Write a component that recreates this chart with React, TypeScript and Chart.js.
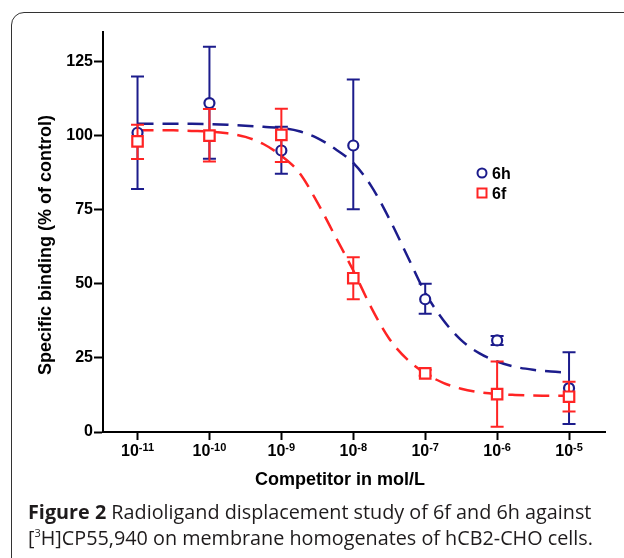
import React, { useEffect, useRef } from "react";
import { Chart, registerables } from "chart.js";

Chart.register(...registerables);

// ---- data (x = log10 of competitor concentration in mol/L) ----
const logConc = [-11, -10, -9, -8, -7, -6, -5];
const xTicks = [-11, -10, -9, -8, -7, -6, -5];
const yTicks = [0, 25, 50, 75, 100, 125];

const h6Mean = [101, 111, 95, 96.7, 44.8, 30.9, 14.8];
const h6Upper = [120, 130, 103, 119, 50, 32.4, 26.9];
const h6Lower = [82, 92.2, 87.2, 75.2, 39.9, 29.4, 2.7];

const f6Mean = [98.1, 100, 100.3, 51.9, 19.8, 12.8, 11.9];
const f6Upper = [103.7, 109, 109.1, 59, 21, 23.8, 17];
const f6Lower = [92.1, 91.3, 91.1, 44.8, 19, 1.8, 6.9];

// fitted curves
const curveX = [
  -11, -10.75, -10.5, -10.25, -10, -9.75, -9.5, -9.25, -9, -8.75, -8.5, -8.25, -8,
  -7.75, -7.5, -7.25, -7, -6.75, -6.5, -6.25, -6, -5.75, -5.5, -5.25, -5,
];
const h6Curve = [
  104, 104, 104, 104, 103.9, 103.7, 103.4, 103.0, 102.6, 101.5, 99.2, 95.5, 90.8,
  83.0, 72.0, 59.5, 47.0, 37.8, 31.0, 26.6, 23.8, 22.0, 21.0, 20.4, 20.0,
];
const f6Curve = [
  101.8, 101.8, 101.8, 101.6, 101.4, 100.8, 99.6, 97.2, 93.2, 87.5, 77.5, 66.0, 54.5,
  42.0, 31.5, 24.5, 19.8, 16.6, 14.6, 13.4, 12.8, 12.5, 12.3, 12.2, 12.2,
];

const seriesNames = ["6h", "6f"];
const BLUE = "#1c1c8c";
const RED = "#ff2424";
const AXIS_FONT = "'Liberation Sans', Arial, sans-serif";

export default function App() {
  const ref = useRef<HTMLCanvasElement | null>(null);

  useEffect(() => {
    const canvas = ref.current;
    if (!canvas) return;

    const errorBars = [
      { upper: h6Upper, lower: h6Lower, color: BLUE },
      { upper: f6Upper, lower: f6Lower, color: RED },
    ];

    const plugin = {
      id: "decor",
      beforeDatasetDraw(chart: any, args: any) {
        const idx = args.index;
        if (idx !== 2 && idx !== 3) return;
        const eb = errorBars[idx - 2];
        const xs = chart.scales.x;
        const ys = chart.scales.y;
        const ctx = chart.ctx;
        ctx.save();
        ctx.strokeStyle = eb.color;
        ctx.lineWidth = 2;
        logConc.forEach((lx, i) => {
          const px = xs.getPixelForValue(lx);
          const pt = ys.getPixelForValue(eb.upper[i]);
          const pb = ys.getPixelForValue(eb.lower[i]);
          ctx.beginPath();
          ctx.moveTo(px, pt);
          ctx.lineTo(px, pb);
          ctx.moveTo(px - 6.5, pt);
          ctx.lineTo(px + 6.5, pt);
          ctx.moveTo(px - 6.5, pb);
          ctx.lineTo(px + 6.5, pb);
          ctx.stroke();
        });
        ctx.restore();
      },
      afterDraw(chart: any) {
        const ctx = chart.ctx;
        const xs = chart.scales.x;
        const area = chart.chartArea;
        ctx.save();
        ctx.fillStyle = "#000";
        // x tick labels 10^n
        xTicks.forEach((v) => {
          const px = xs.getPixelForValue(v);
          ctx.font = `bold 16px ${AXIS_FONT}`;
          const wBase = ctx.measureText("10").width;
          ctx.font = `bold 11px ${AXIS_FONT}`;
          const expText = String(v);
          const wExp = ctx.measureText(expText).width;
          const start = px - (wBase + wExp) / 2;
          const base = area.bottom + 24;
          ctx.textAlign = "left";
          ctx.textBaseline = "alphabetic";
          ctx.font = `bold 16px ${AXIS_FONT}`;
          ctx.fillText("10", start, base);
          ctx.font = `bold 11px ${AXIS_FONT}`;
          ctx.fillText(expText, start + wBase, base - 5);
        });
        // axis titles
        ctx.font = `bold 18px ${AXIS_FONT}`;
        ctx.textAlign = "center";
        ctx.textBaseline = "alphabetic";
        ctx.fillText("Competitor in mol/L", 340, 485);
        ctx.save();
        ctx.translate(51, 245);
        ctx.rotate(-Math.PI / 2);
        ctx.fillText("Specific binding (% of control)", 0, 0);
        ctx.restore();
        // legend
        ctx.lineWidth = 2;
        ctx.strokeStyle = BLUE;
        ctx.beginPath();
        ctx.arc(482, 173, 4.5, 0, Math.PI * 2);
        ctx.stroke();
        ctx.strokeStyle = RED;
        ctx.strokeRect(477.5, 188.5, 9, 9);
        ctx.font = `bold 16px ${AXIS_FONT}`;
        ctx.textAlign = "left";
        ctx.fillText(seriesNames[0], 492, 179);
        ctx.fillText(seriesNames[1], 492, 198.5);
        ctx.restore();
      },
    };

    const chart = new Chart(canvas, {
      type: "line",
      data: {
        datasets: [
          {
            label: "6h fit",
            data: curveX.map((x, i) => ({ x, y: h6Curve[i] })),
            borderColor: BLUE,
            borderWidth: 2.5,
            borderDash: [16, 9],
            pointRadius: 0,
            cubicInterpolationMode: "monotone",
            fill: false,
            order: 3,
          },
          {
            label: "6f fit",
            data: curveX.map((x, i) => ({ x, y: f6Curve[i] })),
            borderColor: RED,
            borderWidth: 2.5,
            borderDash: [16, 9],
            pointRadius: 0,
            cubicInterpolationMode: "monotone",
            fill: false,
            order: 2,
          },
          {
            label: seriesNames[0],
            data: logConc.map((x, i) => ({ x, y: h6Mean[i] })),
            showLine: false,
            borderColor: BLUE,
            backgroundColor: "#fff",
            pointStyle: "circle",
            pointRadius: 5,
            pointBorderWidth: 2.2,
            pointBackgroundColor: "#fff",
            pointBorderColor: BLUE,
            order: 1,
          },
          {
            label: seriesNames[1],
            data: logConc.map((x, i) => ({ x, y: f6Mean[i] })),
            showLine: false,
            borderColor: RED,
            backgroundColor: "#fff",
            pointStyle: "rect",
            pointRadius: 7.4,
            pointBorderWidth: 2.2,
            pointBackgroundColor: "#fff",
            pointBorderColor: RED,
            order: 0,
          },
        ],
      },
      options: {
        animation: false,
        responsive: false,
        devicePixelRatio: 1,
        layout: { padding: { top: 32, right: 19, left: 0, bottom: 0 } },
        plugins: {
          legend: { display: false },
          tooltip: { enabled: false },
          title: { display: false },
        },
        scales: {
          x: {
            type: "linear",
            min: -11.48,
            max: -4.5,
            afterBuildTicks: (s: any) => {
              s.ticks = xTicks.map((v) => ({ value: v }));
            },
            afterFit: (s: any) => {
              s.height = 68;
            },
            ticks: { display: true, autoSkip: false, callback: () => "" },
            grid: {
              display: true,
              drawOnChartArea: false,
              drawTicks: true,
              tickLength: 8,
              tickWidth: 2,
              tickColor: "#000",
            },
            border: { display: true, color: "#000", width: 2 },
          },
          y: {
            type: "linear",
            min: 0,
            max: 135,
            afterBuildTicks: (s: any) => {
              s.ticks = yTicks.map((v) => ({ value: v }));
            },
            afterFit: (s: any) => {
              s.width = 103;
            },
            ticks: {
              autoSkip: false,
              color: "#000",
              padding: 1,
              font: { family: AXIS_FONT, size: 16, weight: "bold" },
            },
            grid: {
              display: true,
              drawOnChartArea: false,
              drawTicks: true,
              tickLength: 9,
              tickWidth: 2,
              tickColor: "#000",
            },
            border: { display: true, color: "#000", width: 2 },
          },
        },
      },
      plugins: [plugin],
    } as any);

    return () => chart.destroy();
  }, []);

  return (
    <div
      style={{
        position: "fixed",
        left: 0,
        top: 0,
        width: 624,
        height: 558,
        overflow: "hidden",
        background: "#fff",
      }}
    >
      <div
        style={{
          position: "absolute",
          left: 11,
          top: 12,
          width: 720,
          height: 600,
          border: "1.6px solid #333",
          borderTopLeftRadius: 13,
          boxSizing: "border-box",
        }}
      />
      <canvas
        ref={ref}
        width={624}
        height={500}
        style={{ position: "absolute", left: 0, top: 0, width: 624, height: 500 }}
      />
      <div
        style={{
          position: "absolute",
          left: 28,
          top: 499,
          fontFamily: "'Open Sans', sans-serif",
          fontSize: 19.8,
          lineHeight: "26px",
          color: "#1e1b1c",
          whiteSpace: "nowrap",
        }}
      >
        <div>
          <b>Figure 2</b> Radioligand displacement study of 6f and 6h against
        </div>
        <div>
          [<sup style={{ fontSize: 11, lineHeight: 0, verticalAlign: "8px" }}>3</sup>H]CP55,940 on
          membrane homogenates of hCB2-CHO cells.
        </div>
      </div>
    </div>
  );
}
